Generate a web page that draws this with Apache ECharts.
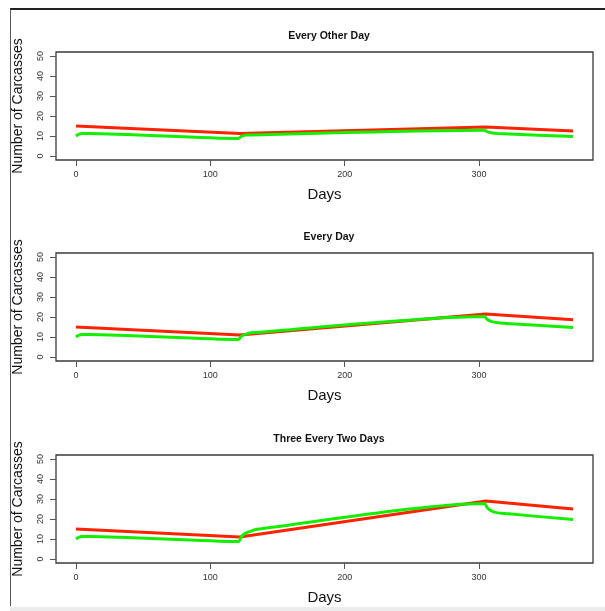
<!DOCTYPE html>
<html>
<head>
<meta charset="utf-8">
<script src="https://cdn.jsdelivr.net/npm/echarts@6/dist/echarts.min.js"></script>
<style>
html,body{margin:0;padding:0;background:#fff;}
#chart{width:605px;height:611px;}
</style>
</head>
<body>
<div id="chart"></div>
<script>
// ---- Data ----
const panelTitles = ['Every Other Day', 'Every Day', 'Three Every Two Days'];
const xTickValues = [0, 100, 200, 300];
const yTickValues = [0, 10, 20, 30, 40, 50];

const red1Days = [0, 122, 305, 370];
const red1Vals = [15, 11.2, 14.5, 12.5];
const green1Days = [0, 2, 5, 10, 121, 123, 127, 304, 306, 309, 314, 370];
const green1Vals = [10, 10.8, 11.2, 11.3, 8.8, 9.8, 10.5, 12.9, 12.2, 11.6, 11.2, 9.8];

const red2Days = [0, 122, 305, 370];
const red2Vals = [15, 11, 21.5, 18.6];
const green2Days = [0, 2, 5, 10, 121, 123, 126, 132, 304, 306, 309, 314, 320, 370];
const green2Vals = [10, 10.8, 11.2, 11.3, 8.8, 10.3, 11.3, 12.2, 20.3, 18.9, 17.8, 17.1, 16.8, 14.7];

const red3Days = [0, 122, 305, 370];
const red3Vals = [15, 11, 29, 25];
const green3Days = [0, 2, 5, 10, 121, 123, 125, 128, 135, 304, 306, 309, 313, 320, 370];
const green3Vals = [10, 10.8, 11.2, 11.3, 8.8, 11, 12.4, 13.4, 14.9, 27.8, 25.8, 24.1, 23.2, 22.7, 19.7];

const redSeries = [[red1Days, red1Vals], [red2Days, red2Vals], [red3Days, red3Vals]];
const greenSeries = [[green1Days, green1Vals], [green2Days, green2Vals], [green3Days, green3Vals]];

function pairs(d) { return d[0].map((x, i) => [x, d[1][i]]); }

const FONT = 'Liberation Sans, Arial, Helvetica, sans-serif';
const RED = '#ff2200';
const GREEN = '#14ee00';
const gridTops = [52, 253, 455];
const gridH = 108;

const grids = [], xAxes = [], yAxes = [], series = [], titles = [];
for (let i = 0; i < 3; i++) {
  grids.push({
    left: 56, right: 12, top: gridTops[i], height: gridH,
    show: true, borderColor: '#3a3a3a', borderWidth: 1.3, backgroundColor: 'transparent'
  });
  xAxes.push({
    type: 'value', gridIndex: i, min: -14.8, max: 384.8, position: 'bottom',
    name: 'Days', nameLocation: 'middle', nameGap: 27,
    nameTextStyle: { fontFamily: FONT, fontSize: 15, color: '#111' },
    axisLine: { show: false, onZero: false },
    axisTick: { show: true, length: 6, inside: false, customValues: xTickValues, lineStyle: { color: '#555' } },
    axisLabel: { customValues: xTickValues, fontFamily: FONT, fontSize: 9, color: '#333', margin: 10 },
    splitLine: { show: false }
  });
  yAxes.push({
    type: 'value', gridIndex: i, min: -2, max: 52, position: 'left',
    name: 'Number of Carcasses', nameLocation: 'middle', nameRotate: 90, nameGap: 31,
    nameTextStyle: { fontFamily: FONT, fontSize: 14, color: '#111' },
    axisLine: { show: false, onZero: false },
    axisTick: { show: true, length: 6, inside: false, customValues: yTickValues, lineStyle: { color: '#555' } },
    axisLabel: { customValues: yTickValues, rotate: 90, fontFamily: FONT, fontSize: 9, color: '#333', margin: 11 },
    splitLine: { show: false }
  });
  titles.push({
    text: panelTitles[i], left: 324, textAlign: 'center', top: gridTops[i] - 26,
    textStyle: { fontFamily: FONT, fontSize: 10.5, fontWeight: 'bold', color: '#111' }
  });
  series.push({
    type: 'line', xAxisIndex: i, yAxisIndex: i, data: pairs(redSeries[i]),
    showSymbol: false, symbol: 'none', lineStyle: { color: RED, width: 3 }, z: 2, silent: true
  });
  series.push({
    type: 'line', xAxisIndex: i, yAxisIndex: i, data: pairs(greenSeries[i]),
    showSymbol: false, symbol: 'none', smooth: 0.25, lineStyle: { color: GREEN, width: 3 }, z: 3, silent: true
  });
}

const chart = echarts.init(document.getElementById('chart'), null, { renderer: 'canvas' });
chart.setOption({
  animation: false,
  backgroundColor: '#fff',
  title: titles,
  grid: grids,
  xAxis: xAxes,
  yAxis: yAxes,
  series: series,
  graphic: [
    { type: 'rect', shape: { x: 10, y: 607, width: 595, height: 4 }, style: { fill: '#ececec' }, silent: true },
    { type: 'line', shape: { x1: 10, y1: 9, x2: 605, y2: 9 }, style: { stroke: '#222', lineWidth: 2 }, silent: true },
    { type: 'line', shape: { x1: 10.5, y1: 9, x2: 10.5, y2: 606 }, style: { stroke: '#556', lineWidth: 1 }, silent: true }
  ]
});
</script>
</body>
</html>
